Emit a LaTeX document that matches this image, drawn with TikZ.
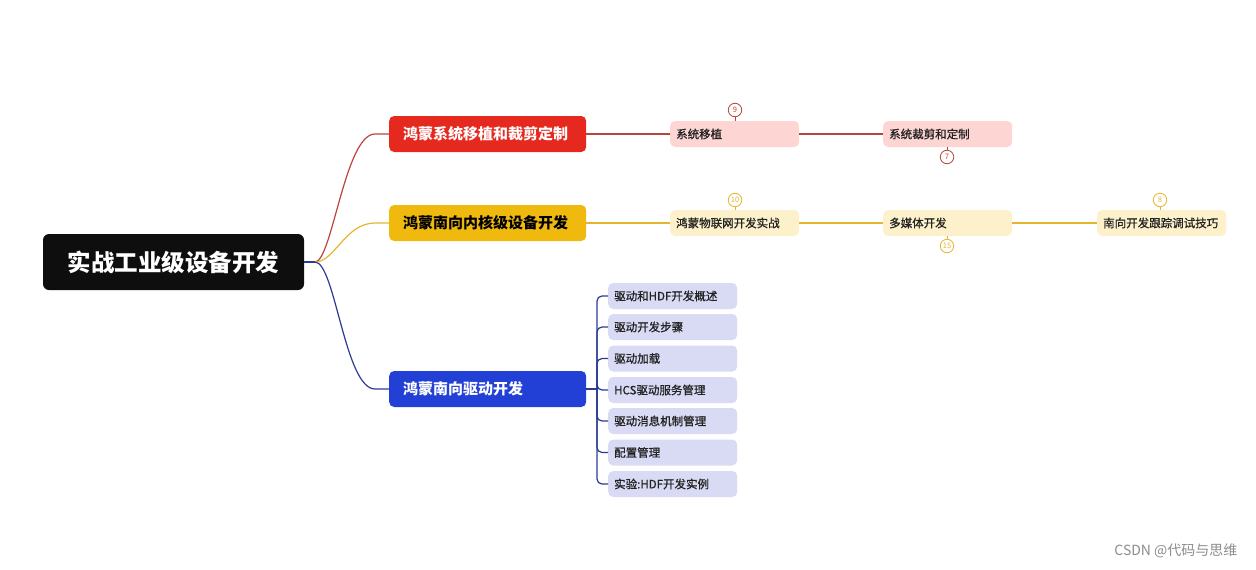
\documentclass[tikz,border=0pt]{standalone}
\usepackage{fontspec}
\setmainfont{Noto Sans CJK SC}
\newfontfamily\medfont{Noto Sans CJK SC}[FakeBold=0.9]
\usetikzlibrary{calc}
\definecolor{rootc}{HTML}{0E0E0E}
\definecolor{redc}{HTML}{E5291F}
\definecolor{yelc}{HTML}{F0B90E}
\definecolor{bluc}{HTML}{2340D6}
\definecolor{redl}{HTML}{FDD5D3}
\definecolor{yell}{HTML}{FCF1CB}
\definecolor{blul}{HTML}{D9DBF5}
\definecolor{redln}{HTML}{B8453A}
\definecolor{yelln}{HTML}{E6B530}
\definecolor{bluln}{HTML}{2C3A92}
\definecolor{txt}{HTML}{222222}
\tikzset{
  rootbox/.style={fill=rootc, rounded corners=6pt, text=white, minimum width=261pt, minimum height=56pt, inner sep=0pt, font=\fontsize{23.5}{28}\selectfont\bfseries},
  mainbox/.style={rounded corners=5pt, anchor=west, text width=169pt, inner xsep=14pt, minimum height=36pt, align=left, font=\fontsize{15}{18}\selectfont\bfseries},
  subbox/.style={rounded corners=5pt, anchor=west, text width=117pt, inner xsep=6pt, minimum height=26pt, align=left, text=txt, font=\fontsize{11.5}{14}\medfont},
  badge/.style={circle, draw, fill=white, minimum size=13.5pt, inner sep=0pt, line width=0.8pt, font=\fontsize{7.5}{8}\selectfont},
  conn/.style={line width=1.2pt},
}
\begin{document}
\begin{tikzpicture}[x=1pt,y=-1pt]
\useasboundingbox (0,0) rectangle (1256,570);
% root
\node[rootbox] (root) at (173.5,262) {实战工业级设备开发};
\coordinate (hub) at (315,262);
% main branches
\node[mainbox, fill=redc, text=white] (b1) at (389,134) {鸿蒙系统移植和裁剪定制};
\node[mainbox, fill=yelc, text=black] (b2) at (389,223) {鸿蒙南向内核级设备开发};
\node[mainbox, fill=bluc, text=white] (b3) at (389,389) {鸿蒙南向驱动开发};
\draw[conn, bluln] (root.east) -- (hub);
\draw[conn, redln] (hub) .. controls (332,262) and (345,134) .. ($(b1.west)+(-14,0)$) -- (b1.west);
\draw[conn, yelln] (hub) .. controls (335,262) and (345,223) .. ($(b2.west)+(-14,0)$) -- (b2.west);
\draw[conn, bluln] (hub) .. controls (335,262) and (345,389) .. ($(b3.west)+(-14,0)$) -- (b3.west);
% red row
\node[subbox, fill=redl] (r1) at (670,134) {系统移植};
\node[subbox, fill=redl] (r2) at (883,134) {系统裁剪和定制};
\draw[conn, redln] (b1.east) -- (r1.west);
\draw[conn, redln] (r1.east) -- (r2.west);
\node[badge, draw=redln, text=redln] (n9) at (735,110) {9};
\node[badge, draw=redln, text=redln] (n7) at (947,157) {7};
\draw[redln, line width=0.8pt] (n9.south) -- (n9.south|-r1.north);
\draw[redln, line width=0.8pt] (n7.north) -- (n7.north|-r2.south);
% yellow row
\node[subbox, fill=yell] (y1) at (670,223) {鸿蒙物联网开发实战};
\node[subbox, fill=yell] (y2) at (883,223) {多媒体开发};
\node[subbox, fill=yell] (y3) at (1097,223) {南向开发跟踪调试技巧};
\draw[conn, yelln] (b2.east) -- (y1.west);
\draw[conn, yelln] (y1.east) -- (y2.west);
\draw[conn, yelln] (y2.east) -- (y3.west);
\node[badge, draw=yelln, text=yelln] (n10) at (735,200) {10};
\node[badge, draw=yelln, text=yelln] (n15) at (947,246) {15};
\node[badge, draw=yelln, text=yelln] (n8) at (1160,200) {8};
\draw[yelln, line width=0.8pt] (n10.south) -- (n10.south|-y1.north);
\draw[yelln, line width=0.8pt] (n15.north) -- (n15.north|-y2.south);
\draw[yelln, line width=0.8pt] (n8.south) -- (n8.south|-y3.north);
% blue children
\node[subbox, fill=blul] (c1) at (608,296) {驱动和HDF开发概述};
\node[subbox, fill=blul] (c2) at (608,327) {驱动开发步骤};
\node[subbox, fill=blul] (c3) at (608,358.5) {驱动加载};
\node[subbox, fill=blul] (c4) at (608,390) {HCS驱动服务管理};
\node[subbox, fill=blul] (c5) at (608,421) {驱动消息机制管理};
\node[subbox, fill=blul] (c6) at (608,452.5) {配置管理};
\node[subbox, fill=blul] (c7) at (608,484) {实验:HDF开发实例};
\coordinate (trunk) at (597,389);
\draw[conn, bluln] (b3.east) -- (trunk);
\foreach \c in {c1,c2,c3,c4,c5,c6,c7}{
  \draw[conn, bluln, rounded corners=5pt] (trunk) |- (\c.west);
}
% watermark
\node[anchor=east, text=black!45, font=\fontsize{14}{16}\selectfont] (wm) at (1241,551) {CSDN @代码与思维};
\end{tikzpicture}
\end{document}
